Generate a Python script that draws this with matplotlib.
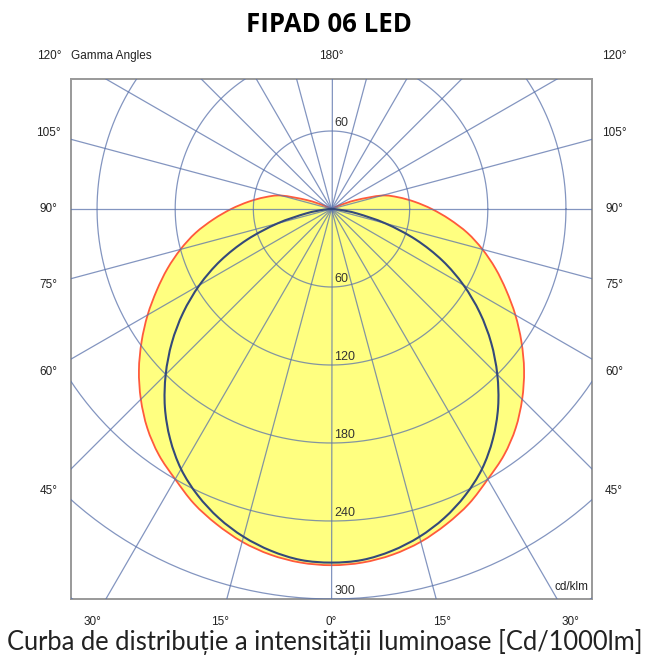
import numpy as np
import matplotlib.pyplot as plt
from matplotlib.path import Path
from matplotlib.patches import PathPatch

# gamma angles (deg) and luminous intensity (cd/klm)
gamma = np.arange(0, 185, 5)
c0_c180 = [274, 273, 270, 265, 258, 250, 240, 231, 220, 207, 193, 178, 163,
           148, 134, 120, 106, 91, 77, 64, 52, 40, 20, 6, 0,
           0, 0, 0, 0, 0, 0, 0, 0, 0, 0, 0, 0]
c90_c270 = [272, 271, 267, 261, 253, 243, 231, 216, 199, 180, 160, 139, 117,
            94, 69, 43, 20, 6, 0,
            0, 0, 0, 0, 0, 0, 0, 0, 0, 0, 0, 0, 0, 0, 0, 0, 0, 0]
rings = [60, 120, 180, 240, 300, 360]
ring_labels = [60, 120, 180, 240, 300]
side_angles = [45, 60, 75, 90, 105]
bottom_angles = [30, 15, 0, 15, 30]

title = "FIPAD 06 LED"
caption = "Curba de distribuție a intensității luminoase [Cd/1000lm]"

grid_col = '#5a72ab'
lab_font = ['Liberation Sans', 'DejaVu Sans']


def curve_path(vals):
    # closed polar curve, mirrored for both halves, drawn as a smooth bezier through the points
    g = np.radians(gamma)
    r = np.array(vals, dtype=float)
    x = np.concatenate([(r * np.sin(g))[::-1], -r[1:] * np.sin(g[1:])])
    y = np.concatenate([(-r * np.cos(g))[::-1], -r[1:] * np.cos(g[1:])])
    pts = np.column_stack([x, y])[:-1]
    n = len(pts)
    verts = [pts[0]]
    codes = [Path.MOVETO]
    for i in range(n):
        p0, p1, p2, p3 = pts[i - 1], pts[i], pts[(i + 1) % n], pts[(i + 2) % n]
        verts += [p1 + (p2 - p0) / 6, p2 - (p3 - p1) / 6, p2]
        codes += [Path.CURVE4] * 3
    return Path(verts, codes)


fig = plt.figure(figsize=(6.5, 6.58), dpi=100)
W, H = 650, 658
ax = fig.add_axes([71 / W, (H - 599) / H, 521 / W, 520 / H])
ax.set_xlim(-200, 200)
ax.set_ylim(-300, 100)
ax.set_xticks([])
ax.set_yticks([])
for s in ax.spines.values():
    s.set_color('#999999')
    s.set_linewidth(1.4)

# yellow distribution (C0-C180)
ax.add_patch(PathPatch(curve_path(c0_c180), facecolor='#ffff80', edgecolor='#ff5a3c',
                       lw=1.3, zorder=1))

# grid: rings and gamma lines
t = np.linspace(0, 2 * np.pi, 400)
for r in rings:
    ax.plot(r * np.cos(t), r * np.sin(t), color=grid_col, lw=0.9, alpha=0.75, zorder=3)
for a in range(0, 180, 15):
    ar = np.radians(a)
    ax.plot([-500 * np.cos(ar), 500 * np.cos(ar)], [-500 * np.sin(ar), 500 * np.sin(ar)],
            color=grid_col, lw=0.9, alpha=0.75, zorder=3)

# blue distribution (C90-C270)
ax.add_patch(PathPatch(curve_path(c90_c270), facecolor='none', edgecolor='#34497a',
                       lw=1.5, zorder=4))

# ring labels
ax.text(2, 61.5, '60', fontsize=9, family=lab_font, ha='left', va='bottom', color='#333333', zorder=5)
for r in ring_labels:
    ax.text(2, -r + 1.5, str(r), fontsize=9, family=lab_font, ha='left', va='bottom',
            color='#333333', zorder=5)

# gamma angle labels around the box
bx, by_top, by_bot = 217, 118, -318
for g in side_angles:
    yy = -bx / np.tan(np.radians(g)) if g != 90 else 0
    for sx in (-1, 1):
        ax.text(sx * bx, yy, f'{g}°', fontsize=8.5, family=lab_font, ha='center', va='center',
                color='#222222', clip_on=False)
for sx in (-1, 1):
    ax.text(sx * bx, by_top, '120°', fontsize=8.5, family=lab_font, ha='center', va='center',
            color='#222222', clip_on=False)
ax.text(0, by_top, '180°', fontsize=8.5, family=lab_font, ha='center', va='center',
        color='#222222', clip_on=False)
ax.text(-200, by_top, 'Gamma Angles', fontsize=8.5, family=lab_font, ha='left', va='center',
        color='#222222', clip_on=False)
for i, g in enumerate(bottom_angles):
    sx = -1 if i < 2 else 1
    ax.text(sx * -by_bot * np.tan(np.radians(g)), by_bot, f'{g}°', fontsize=8.5, family=lab_font,
            ha='center', va='center', color='#222222', clip_on=False)
ax.text(197, -291, 'cd/klm', fontsize=8.5, family=lab_font, ha='right', va='center',
        color='#222222', zorder=5)

fig.text(329 / W, 1 - 25 / H, title, fontsize=18.5, fontweight='bold', family='Open Sans',
         ha='center', va='center')
fig.text(325 / W, 1 - 642 / H, caption, fontsize=18.4, fontweight='normal', family='Lato',
         ha='center', va='center', color='#222222')

fig.savefig('out.png', dpi=100)
